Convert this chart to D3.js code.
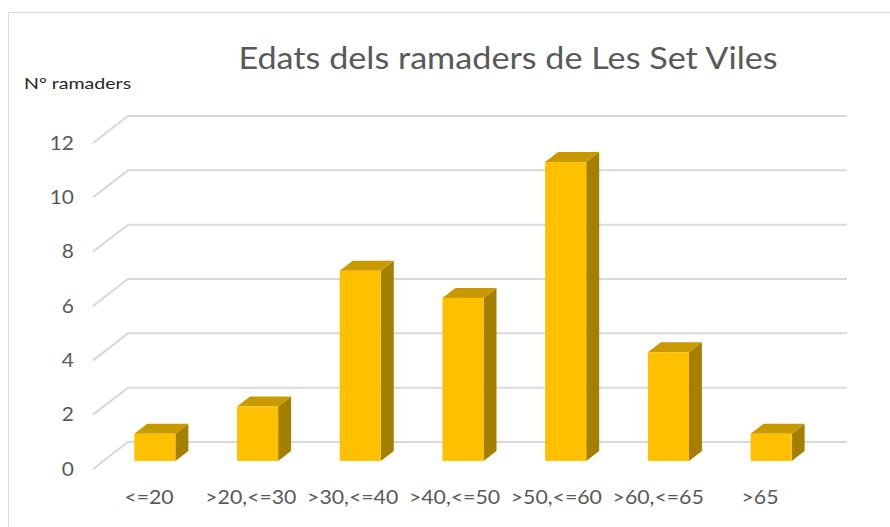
<!DOCTYPE html>
<html>
<head>
<meta charset="utf-8">
<script src="https://cdn.jsdelivr.net/npm/d3@7"></script>
<style>
  body { margin: 0; background: #fff; }
  text { font-family: Lato, "Open Sans", sans-serif; }
</style>
</head>
<body>
<div class="vis-chart"></div>
<script>
// data
const categories = ['<=20', '>20,<=30', '>30,<=40', '>40,<=50', '>50,<=60', '>60,<=65', '>65'];
const counts = [1, 2, 7, 6, 11, 4, 1];
const yTicks = [0, 2, 4, 6, 8, 10, 12];

const width = 890, height = 527;
const depth = {dx: 35, dy: -27};          // floor depth (front -> back wall)
const barFront = 0.3, barBack = 0.67;     // bar position along the depth

const svg = d3.select('.vis-chart').append('svg')
    .attr('width', width)
    .attr('height', height);

// text in the original is drawn a bit wider than its height
const place = (tx, ty, sx) => 'translate(' + tx + ',' + ty + ') scale(' + sx + ',1)';

// chart frame
svg.append('rect')
    .attr('x', 8.5).attr('y', 12.5)
    .attr('width', 900).attr('height', 600)
    .attr('fill', 'none')
    .attr('stroke', '#d9d9d9');

// front plane scales
let x = d3.scaleBand()
    .domain(categories)
    .range([93, 812]);
let y = d3.scaleLinear()
    .domain([0, 12])
    .range([469, 143]);
// category label positions
let xl = d3.scalePoint()
    .domain(categories)
    .range([149, 760]);

const px = (xv, d) => xv + d * depth.dx;
const py = (yv, d) => yv + d * depth.dy;

// gridlines: slanted side wall + back wall
const grid = svg.append('g');
yTicks.forEach(t => {
    grid.append('path')
        .attr('d', 'M' + px(93, 0) + ',' + y(t) + 'L' + px(93, 1) + ',' + py(y(t), 1) + 'L' + px(812, 1) + ',' + py(y(t), 1))
        .attr('fill', 'none')
        .attr('stroke', '#d9d9d9')
        .attr('stroke-width', 2);
});

// tick labels
svg.append('g').selectAll('text')
    .data(yTicks)
    .enter().append('text')
    .attr('transform', d => place(74, y(d), 1.1))
    .attr('dy', '0.35em')
    .attr('text-anchor', 'end')
    .attr('font-size', 19)
    .attr('fill', '#595959')
    .text(d => d);

// bars
const dataset = categories.map((c, i) => ({label: c, count: counts[i]}));
const bw = x.bandwidth() * 0.4;
const bars = svg.append('g').selectAll('.bar')
    .data(dataset)
    .enter().append('g')
    .attr('class', 'bar');

const x0 = d => px(x(d.label) + (x.bandwidth() - bw) / 2, barFront);
const x1 = d => x0(d) + bw;
const yb = () => py(y(0), barFront);
const yt = d => py(y(d.count), barFront);
const ddx = (barBack - barFront) * depth.dx;
const ddy = (barBack - barFront) * depth.dy;

// side face
bars.append('path')
    .attr('d', d => 'M' + x1(d) + ',' + yt(d) + 'L' + (x1(d) + ddx) + ',' + (yt(d) + ddy) +
        'L' + (x1(d) + ddx) + ',' + (yb() + ddy) + 'L' + x1(d) + ',' + yb() + 'Z')
    .attr('fill', '#a58000');
// top face
bars.append('path')
    .attr('d', d => 'M' + x0(d) + ',' + yt(d) + 'L' + (x0(d) + ddx) + ',' + (yt(d) + ddy) +
        'L' + (x1(d) + ddx) + ',' + (yt(d) + ddy) + 'L' + x1(d) + ',' + yt(d) + 'Z')
    .attr('fill', '#c89a00');
// front face
bars.append('rect')
    .attr('x', x0)
    .attr('y', yt)
    .attr('width', bw)
    .attr('height', d => yb() - yt(d))
    .attr('fill', '#ffc000');

// category labels
svg.append('g').selectAll('text')
    .data(dataset)
    .enter().append('text')
    .attr('transform', d => place(xl(d.label), 504, 1.12))
    .attr('text-anchor', 'middle')
    .attr('font-size', 19)
    .attr('fill', '#595959')
    .text(d => d.label);

// title and axis title
svg.append('text')
    .attr('transform', place(508, 69, 1.14))
    .attr('text-anchor', 'middle')
    .attr('font-size', 30)
    .attr('fill', '#595959')
    .text('Edats dels ramaders de Les Set Viles');

svg.append('text')
    .attr('transform', place(24, 89, 1.35))
    .attr('font-size', 14.5)
    .attr('fill', '#262626')
    .text('Nº ramaders');
</script>
</body>
</html>
